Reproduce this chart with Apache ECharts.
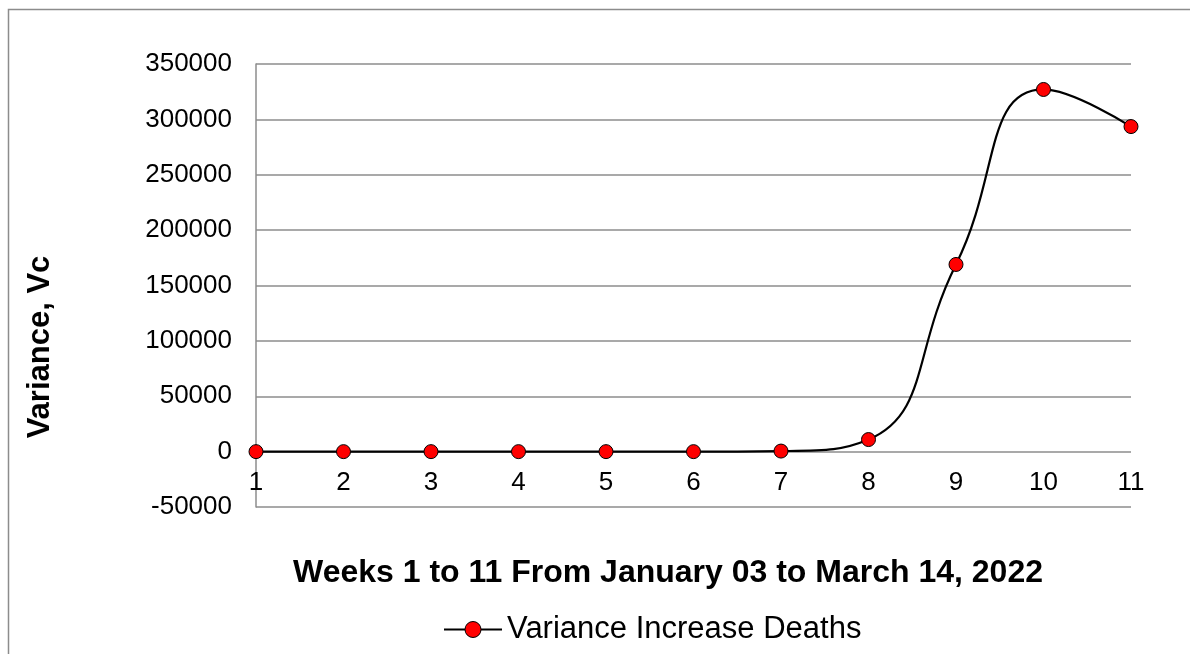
<!DOCTYPE html>
<html>
<head>
<meta charset="utf-8">
<script src="https://cdn.jsdelivr.net/npm/echarts@6/dist/echarts.min.js"></script>
<style>
  html, body { margin: 0; padding: 0; background: #fff; }
  #main { width: 1190px; height: 654px; }
</style>
</head>
<body>
<div id="main"></div>
<script>
  var weeks = ['1', '2', '3', '4', '5', '6', '7', '8', '9', '10', '11'];
  var varianceDeaths = [0, 0, 0, 0, 0, 0, 500, 10900, 169000, 327000, 293500];
  var seriesName = 'Variance Increase Deaths';

  var chart = echarts.init(document.getElementById('main'));
  var font = 'Liberation Sans, Arial, sans-serif';

  var option = {
    animation: false,
    grid: { left: 256, right: 59, top: 64, bottom: 147 },
    graphic: [
      {
        type: 'rect',
        shape: { x: 8.5, y: 9.5, width: 1200, height: 700 },
        style: { fill: 'none', stroke: '#8c8c8c', lineWidth: 1.5 }
      },
      {
        type: 'text',
        x: 40, y: 347,
        rotation: Math.PI / 2,
        style: {
          text: 'Variance, Vc', font: 'bold 31px ' + font, fill: '#000',
          textAlign: 'center', textVerticalAlign: 'middle'
        }
      },
      {
        type: 'text',
        x: 668, y: 573,
        style: {
          text: 'Weeks 1 to 11 From January 03 to March 14, 2022', font: 'bold 32px ' + font, fill: '#000',
          textAlign: 'center', textVerticalAlign: 'middle'
        }
      }
    ],
    legend: {
      top: 609,
      left: 438,
      itemWidth: 58, itemHeight: 20,
      itemGap: 5,
      itemStyle: { borderWidth: 1, borderColor: '#000' },
      textStyle: { fontFamily: font, fontSize: 31, color: '#000' },
      data: [seriesName]
    },
    xAxis: {
      type: 'category',
      data: weeks,
      boundaryGap: false,
      axisLine: { show: false },
      axisTick: { show: false },
      // labels sit just under the zero line, as in the source chart
      axisLabel: { fontFamily: font, fontSize: 26, color: '#000', margin: -37 },
      splitLine: { show: false }
    },
    yAxis: {
      type: 'value',
      min: -50000, max: 350000, interval: 50000,
      axisLine: { show: true, lineStyle: { color: '#8c8c8c', width: 1.5 } },
      axisTick: { show: false },
      axisLabel: {
        fontFamily: font, fontSize: 26, color: '#000', margin: 24,
        formatter: function (v) { return String(v); }
      },
      splitLine: { lineStyle: { color: '#8c8c8c', width: 1.5 } }
    },
    series: [
      {
        name: seriesName,
        type: 'line',
        data: varianceDeaths,
        smooth: 0.5,
        symbol: 'circle',
        symbolSize: 14,
        lineStyle: { color: '#000', width: 2.2 },
        itemStyle: { color: '#ff0000', borderColor: '#000', borderWidth: 1 }
      }
    ]
  };

  chart.setOption(option);
</script>
</body>
</html>
